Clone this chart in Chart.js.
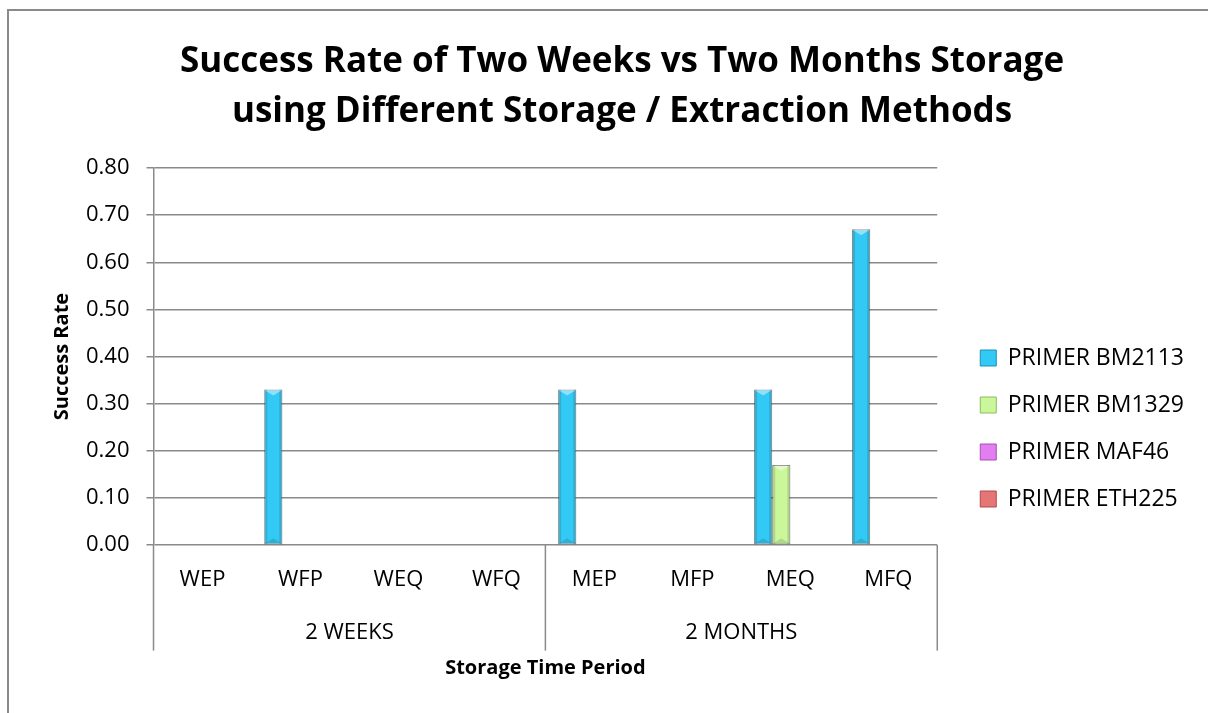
<!DOCTYPE html>
<html>
<head>
<meta charset="utf-8">
<script src="https://cdn.jsdelivr.net/npm/chart.js@4.4.1/dist/chart.umd.min.js"></script>
<style>
  body { margin: 0; background: #fff; }
  #wrap { width: 1208px; height: 713px; position: relative; }
</style>
</head>
<body>
<div id="wrap"><canvas id="successChart"></canvas></div>
<script>
// chart data
var categories = ['WEP', 'WFP', 'WEQ', 'WFQ', 'MEP', 'MFP', 'MEQ', 'MFQ'];
var periods = ['2 WEEKS', '2 MONTHS'];
var yTicks = [0, 0.1, 0.2, 0.3, 0.4, 0.5, 0.6, 0.7, 0.8];
var primerNames = ['PRIMER BM2113', 'PRIMER BM1329', 'PRIMER MAF46', 'PRIMER ETH225'];
var bm2113 = [0, 0.33, 0, 0, 0.33, 0, 0.33, 0.67];
var bm1329 = [0, 0, 0, 0, 0, 0, 0.17, 0];
var maf46 = [0, 0, 0, 0, 0, 0, 0, 0];
var eth225 = [0, 0, 0, 0, 0, 0, 0, 0];

var fontFam = '"Open Sans", Lato, sans-serif';
var colors = ['#33c9f5', '#c9f79a', '#e27ef0', '#e57676'];
var edges = ['#1b8fb5', '#8dbb5c', '#a64fb5', '#b04a4a'];

// white background + the grey frame round the chart
var framePlugin = {
  id: 'frame',
  beforeDraw: function(chart) {
    var c = chart.ctx;
    c.save();
    c.fillStyle = '#fff';
    c.fillRect(0, 0, chart.width, chart.height);
    c.strokeStyle = '#8a8a8a';
    c.lineWidth = 2;
    c.beginPath();
    c.moveTo(8, chart.height + 2);
    c.lineTo(8, 10);
    c.lineTo(chart.width + 2, 10);
    c.stroke();
    c.restore();
  }
};

// legend sits a bit lower than chart.js centres it
var legendShift = {
  id: 'legendShift',
  afterLayout: function(chart) {
    chart.legend.top += 70;
    chart.legend.bottom += 70;
  }
};

// separator lines of the two-level category axis
var groupLines = {
  id: 'groupLines',
  afterDraw: function(chart) {
    var x = chart.scales.x, x2 = chart.scales.x2;
    var c = chart.ctx;
    var mid = (x.getPixelForValue(3) + x.getPixelForValue(4)) / 2;
    var pos = [chart.chartArea.left, mid, chart.chartArea.right];
    var t = x2.options.title;
    var end = x2.bottom - (t.font.size * 1.2 + t.padding.top + t.padding.bottom);
    c.save();
    c.strokeStyle = '#8a8a8a';
    c.lineWidth = 1.5;
    pos.forEach(function(px) {
      c.beginPath();
      c.moveTo(px, chart.chartArea.bottom);
      c.lineTo(px, end);
      c.stroke();
    });
    c.restore();
  }
};

// soft bevel look on the bars
var bevel = {
  id: 'bevel',
  afterDatasetsDraw: function(chart) {
    var c = chart.ctx;
    c.save();
    chart.data.datasets.forEach(function(ds, di) {
      var meta = chart.getDatasetMeta(di);
      meta.data.forEach(function(bar, i) {
        if (!(ds.data[i] > 0)) return;
        var w = bar.width, l = bar.x - w / 2, r = bar.x + w / 2, t = bar.y, b = bar.base;
        c.fillStyle = 'rgba(0,0,0,0.13)';
        c.fillRect(l, t, 3, b - t);
        c.fillRect(r - 3, t, 3, b - t);
        c.fillStyle = 'rgba(255,255,255,0.45)';
        c.beginPath();
        c.moveTo(l + 1, t + 1);
        c.lineTo(r - 1, t + 1);
        c.lineTo(bar.x, t + 6);
        c.closePath();
        c.fill();
        c.fillStyle = 'rgba(0,0,0,0.12)';
        c.beginPath();
        c.moveTo(l + 1, b - 1);
        c.lineTo(r - 1, b - 1);
        c.lineTo(bar.x, b - 6);
        c.closePath();
        c.fill();
      });
    });
    c.restore();
  }
};

var seriesData = [bm2113, bm1329, maf46, eth225];
var datasets = primerNames.map(function(name, k) {
  return {
    label: name,
    data: seriesData[k],
    backgroundColor: colors[k],
    borderColor: 'rgba(90,90,90,0.6)',
    borderWidth: function(ctx) { return ctx.raw > 0 ? 1 : 0; },
    borderSkipped: false,
    xAxisID: 'x'
  };
});

var el = document.getElementById('successChart').getContext('2d');
new Chart(el, {
  type: 'bar',
  data: { labels: categories, datasets: datasets },
  plugins: [framePlugin, legendShift, groupLines, bevel],
  options: {
    responsive: true,
    maintainAspectRatio: false,
    animation: false,
    devicePixelRatio: 1,
    layout: { padding: { left: 50, right: 14, top: 37, bottom: 33 } },
    datasets: { bar: { barPercentage: 1, categoryPercentage: 0.74 } },
    plugins: {
      title: {
        display: true,
        text: ['Success Rate of Two Weeks vs Two Months Storage', 'using Different Storage / Extraction Methods'],
        color: '#000',
        font: { family: fontFam, size: 35, weight: 'bold', lineHeight: 1.43 },
        padding: { top: 0, bottom: 31 }
      },
      legend: {
        position: 'right',
        maxWidth: 320,
        labels: {
          color: '#000',
          font: { family: fontFam, size: 23 },
          boxWidth: 16,
          boxHeight: 16,
          padding: 24,
          generateLabels: function(chart) {
            return chart.data.datasets.map(function(ds, i) {
              return { text: ds.label, fillStyle: colors[i], strokeStyle: edges[i], lineWidth: 1, datasetIndex: i };
            });
          }
        }
      },
      tooltip: { enabled: false }
    },
    scales: {
      y: {
        min: 0,
        max: 0.8,
        afterBuildTicks: function(axis) { axis.ticks = yTicks.map(function(v) { return { value: v }; }); },
        ticks: {
          color: '#000',
          font: { family: fontFam, size: 22 },
          padding: 17,
          callback: function(v) { return Number(v).toFixed(2); }
        },
        grid: { color: '#8a8a8a', lineWidth: 1.5, tickLength: 7 },
        border: { color: '#8a8a8a', width: 1.5 },
        title: {
          display: true,
          text: 'Success Rate',
          color: '#000',
          font: { family: fontFam, size: 20, weight: 'bold' },
          padding: { top: 0, bottom: -5 }
        }
      },
      // empty right axis, only keeps a gap between plot and legend
      yGap: {
        position: 'right',
        display: true,
        grid: { display: false, drawTicks: false },
        border: { display: false },
        ticks: { display: false },
        afterFit: function(axis) { axis.width = 19; }
      },
      x: {
        grid: { display: false, drawTicks: false },
        border: { display: false },
        ticks: { color: '#000', font: { family: fontFam, size: 22 }, padding: 22, maxRotation: 0 }
      },
      x2: {
        type: 'category',
        labels: periods,
        position: 'bottom',
        offset: true,
        grid: { display: false, drawTicks: false },
        border: { display: false },
        ticks: { color: '#000', font: { family: fontFam, size: 22 }, padding: 4.4, maxRotation: 0 },
        title: {
          display: true,
          text: 'Storage Time Period',
          color: '#000',
          font: { family: fontFam, size: 20, weight: 'bold' },
          padding: { top: 5.4, bottom: 0 }
        }
      }
    }
  }
});
</script>
</body>
</html>
